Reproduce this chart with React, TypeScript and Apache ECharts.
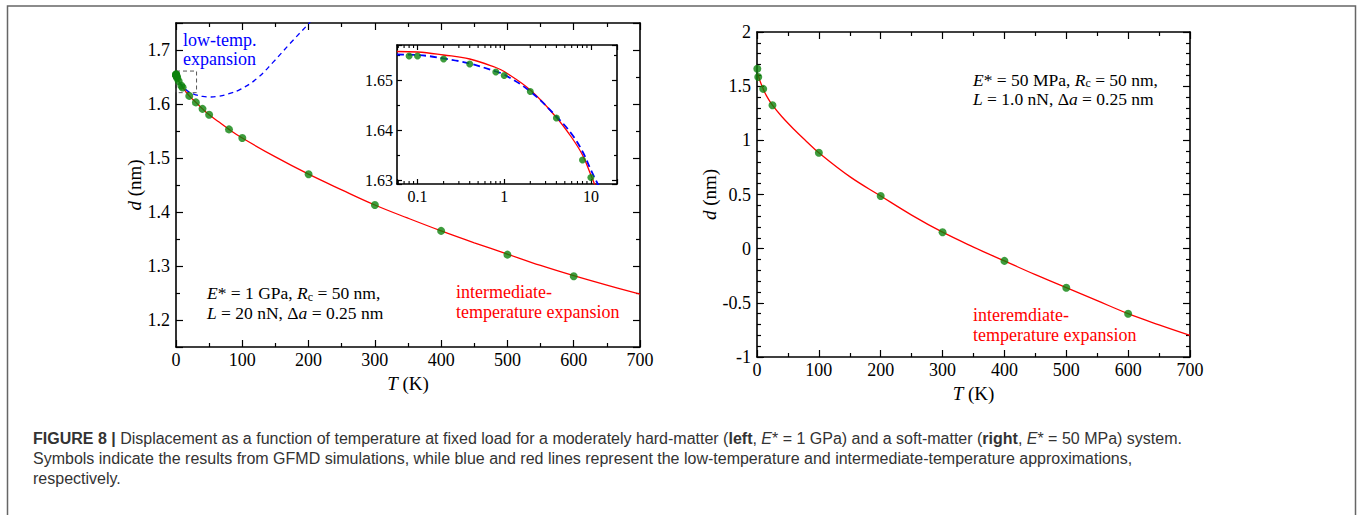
import React, { useEffect, useRef } from 'react';
import * as echarts from 'echarts';

const SERIF = '"Liberation Serif", "Times New Roman", serif';
const SANS = '"Liberation Sans", Arial, sans-serif';

// ---------- Left panel (E* = 1 GPa) ----------
const leftSimT = [0.08, 0.1, 0.2, 0.4, 0.8, 1, 2, 4, 8, 10, 20, 30, 40, 50, 80, 100, 200, 300, 400, 500, 600];
const leftSimD = [1.6548, 1.6548, 1.6542, 1.6532, 1.6516, 1.6509, 1.6477, 1.6424, 1.634, 1.6305, 1.615, 1.603, 1.591, 1.58, 1.553, 1.537, 1.47, 1.413, 1.365, 1.321, 1.281];
const leftInterT = [0, 2, 5, 10, 20, 30, 40, 50, 65, 80, 100, 150, 200, 250, 300, 350, 400, 450, 500, 550, 600, 650, 700];
const leftInterD = [1.6558, 1.648, 1.64, 1.631, 1.615, 1.603, 1.591, 1.58, 1.5665, 1.553, 1.537, 1.502, 1.47, 1.441, 1.413, 1.3885, 1.365, 1.343, 1.322, 1.301, 1.282, 1.2645, 1.248];
const leftLowT = [0, 2, 4, 8, 12, 20, 30, 40, 52, 65, 80, 97, 122, 147, 172, 201, 215];
const leftLowD = [1.6553, 1.6477, 1.6427, 1.6357, 1.63, 1.622, 1.617, 1.614, 1.613, 1.6145, 1.619, 1.627, 1.647, 1.678, 1.712, 1.75, 1.77];
const zoomBoxT = [0, 31];
const zoomBoxD = [1.621, 1.661];

// ---------- Inset (log T) ----------
const insetInterT = [0.058, 0.1, 0.2, 0.4, 0.8, 1, 2, 4, 6, 8, 10, 12];
const insetInterD = [1.6557, 1.6556, 1.655, 1.6542, 1.6525, 1.6517, 1.648, 1.6425, 1.6385, 1.635, 1.631, 1.6275];
const insetLowT = [0.058, 0.1, 0.2, 0.4, 0.8, 1, 2, 4, 6, 8, 10, 13];
const insetLowD = [1.6551, 1.655, 1.6543, 1.6533, 1.6517, 1.6511, 1.6477, 1.6427, 1.6392, 1.6357, 1.632, 1.628];
const insetTRange = [0.058, 20];
const insetDRange = [1.6292, 1.657];
const insetMajorLabels: Record<string, string> = { '-1': '0.1', '0': '1', '1': '10' };

// ---------- Right panel (E* = 50 MPa) ----------
const rightSimT = [0.5, 2, 10, 25, 100, 200, 300, 400, 500, 600];
const rightSimD = [1.66, 1.585, 1.475, 1.324, 0.885, 0.486, 0.152, -0.113, -0.36, -0.6];
const rightInterT = [1.5, 5, 10, 15, 25, 40, 60, 80, 100, 150, 200, 250, 300, 350, 400, 450, 500, 550, 600, 650, 700];
const rightInterD = [1.61, 1.545, 1.475, 1.415, 1.324, 1.22, 1.1, 0.99, 0.885, 0.665, 0.486, 0.31, 0.152, 0.015, -0.113, -0.24, -0.36, -0.48, -0.6, -0.703, -0.8];

const zip = (a: number[], b: number[]) => a.map((v, i) => [v, b[i]]);
const zipLog = (a: number[], b: number[]) => a.map((v, i) => [Math.log10(v), b[i]]);

const RED = '#ff0000';
const BLUE = '#0000ff';
const GREEN = '#0c830c';

const tickLine = { color: '#000', width: 1.2 };

function axis(opts: any) {
  const {
    gridIndex, position, min, max, interval, splitNumber, minorSplit, major, minor,
    showLabel, fontSize, formatter, name, nameGap, margin,
  } = opts;
  const a: any = {
    type: 'value', gridIndex, position, min, max,
    axisLine: { show: true, onZero: false, lineStyle: { color: '#000', width: 1.6 } },
    axisTick: { show: true, inside: true, length: major, lineStyle: tickLine },
    minorTick: { show: minorSplit > 1, splitNumber: minorSplit || 2, length: minor, lineStyle: tickLine },
    splitLine: { show: false },
    minorSplitLine: { show: false },
    axisLabel: {
      show: !!showLabel, fontFamily: SERIF, fontSize: fontSize || 18, color: '#000', margin: margin ?? 5,
      formatter, showMinLabel: true, showMaxLabel: true, hideOverlap: false,
    },
  };
  if (interval !== undefined) a.interval = interval;
  if (splitNumber !== undefined) a.splitNumber = splitNumber;
  if (name) {
    a.name = name;
    a.nameLocation = 'middle';
    a.nameGap = nameGap;
    a.nameTextStyle = {
      fontFamily: SERIF, fontSize: 19, color: '#000',
      rich: { i: { fontFamily: SERIF, fontSize: 19, fontStyle: 'italic', color: '#000' } },
    };
  }
  return a;
}

const oneDec = (v: number) => (Math.abs(v * 10 - Math.round(v * 10)) < 1e-6 ? v.toFixed(1) : '');
const twoDec = (v: number) => (Math.abs(v * 100 - Math.round(v * 100)) < 1e-6 ? v.toFixed(2) : '');
const logLbl = (v: number) => (Math.abs(v - Math.round(v)) < 1e-6 ? insetMajorLabels[String(Math.round(v))] || '' : '');

const insetXMin = Math.log10(insetTRange[0]);
const insetXMax = Math.log10(insetTRange[1]);
const insetMinorTickVals: number[] = [];
for (let e = -2; e <= 1; e++) {
  for (let k = 2; k <= 9; k++) {
    const lv = Math.log10(k * Math.pow(10, e));
    if (lv > insetXMin + 1e-6 && lv < insetXMax - 1e-6) insetMinorTickVals.push(lv);
  }
}

const AF = 18; // free annotation font size
const ALH = 19.5; // annotation line height
const PF = 17.5; // parameter block font size
const rich = {
  i: { fontFamily: SERIF, fontSize: PF, fontStyle: 'italic', lineHeight: ALH },
  n: { fontFamily: SERIF, fontSize: PF, lineHeight: ALH },
  sub: { fontFamily: SERIF, fontSize: 12, lineHeight: 12, padding: [7.5, 0, 0, 0] },
};

const CF = 16; // caption font size
const capRich = {
  n: { fontFamily: SANS, fontSize: CF, color: '#333' },
  b: { fontFamily: SANS, fontSize: CF, fontWeight: 'bold', color: '#333' },
  i: { fontFamily: SANS, fontSize: CF, fontStyle: 'italic', color: '#333' },
};

const lineSeries = (xi: number, data: number[][], color: string, width: number, dash: any, z: number) => ({
  type: 'line', xAxisIndex: xi, yAxisIndex: xi, data,
  smooth: 0.4, symbol: 'none', silent: true, z,
  lineStyle: { color, width, type: dash || 'solid' },
});

function paramBlock(x: number, top: number, eText: string, lText: string) {
  return {
    type: 'text', x, y: top, z: 50,
    style: {
      text: `{i|E}{n|${eText}}{i|R}{sub|c}{n| = 50 nm,}\n{i|L}{n|${lText}}{i|a}{n| = 0.25 nm}`,
      fill: '#000', font: `${PF}px ${SERIF}`, rich, textVerticalAlign: 'top',
    },
  };
}

function noteBlock(x: number, top: number, text: string, color: string) {
  return {
    type: 'text', x, y: top, z: 50,
    style: { text, fill: color, font: `${AF}px ${SERIF}`, lineHeight: ALH, textVerticalAlign: 'top' },
  };
}

function buildOption(): any {
  return {
    animation: false,
    backgroundColor: '#fff',
    grid: [
      { left: 176, top: 23, width: 464, height: 324, containLabel: false },
      { left: 397, top: 45, width: 220, height: 139, containLabel: false, show: true, backgroundColor: '#fff', borderWidth: 0, z: 5 },
      { left: 757, top: 32, width: 433, height: 325, containLabel: false },
    ],
    xAxis: [
      axis({ gridIndex: 0, position: 'bottom', min: 0, max: 700, interval: 100, minorSplit: 2, major: 7, minor: 4, showLabel: true, margin: 4, name: '{i|T} (K)', nameGap: 21 }),
      axis({ gridIndex: 0, position: 'top', min: 0, max: 700, interval: 100, minorSplit: 2, major: 7, minor: 4 }),
      { ...axis({ gridIndex: 1, position: 'bottom', min: insetXMin, max: insetXMax, splitNumber: 3, minorSplit: 0, major: 5, minor: 3, showLabel: true, fontSize: 16, margin: 4, formatter: logLbl }), z: 6 },
      { ...axis({ gridIndex: 1, position: 'top', min: insetXMin, max: insetXMax, splitNumber: 3, minorSplit: 0, major: 5, minor: 3 }), z: 6 },
      axis({ gridIndex: 2, position: 'bottom', min: 0, max: 700, interval: 100, minorSplit: 2, major: 7, minor: 4, showLabel: true, margin: 4, name: '{i|T} (K)', nameGap: 23 }),
      axis({ gridIndex: 2, position: 'top', min: 0, max: 700, interval: 100, minorSplit: 2, major: 7, minor: 4 }),
    ],
    yAxis: [
      axis({ gridIndex: 0, position: 'left', min: 1.15, max: 1.75, splitNumber: 6, minorSplit: 2, major: 7, minor: 4, showLabel: true, margin: 6, formatter: oneDec, name: '{i|d} (nm)', nameGap: 31 }),
      axis({ gridIndex: 0, position: 'right', min: 1.15, max: 1.75, splitNumber: 6, minorSplit: 2, major: 7, minor: 4 }),
      { ...axis({ gridIndex: 1, position: 'left', min: insetDRange[0], max: insetDRange[1], splitNumber: 3, minorSplit: 2, major: 5, minor: 3, showLabel: true, fontSize: 16, margin: 4, formatter: twoDec }), z: 6 },
      { ...axis({ gridIndex: 1, position: 'right', min: insetDRange[0], max: insetDRange[1], splitNumber: 3, minorSplit: 2, major: 5, minor: 3 }), z: 6 },
      axis({ gridIndex: 2, position: 'left', min: -1, max: 2, interval: 0.5, minorSplit: 5, major: 7, minor: 4, showLabel: true, margin: 6, name: '{i|d} (nm)', nameGap: 36 }),
      axis({ gridIndex: 2, position: 'right', min: -1, max: 2, interval: 0.5, minorSplit: 5, major: 7, minor: 4 }),
    ],
    series: [
      lineSeries(0, zip(leftInterT, leftInterD), RED, 1.3, null, 2),
      lineSeries(0, zip(leftLowT, leftLowD), BLUE, 1.3, [5, 4], 2),
      {
        type: 'scatter', xAxisIndex: 0, yAxisIndex: 0, data: zip(leftSimT, leftSimD),
        symbol: 'circle', symbolSize: 8, itemStyle: { color: GREEN }, z: 3, silent: true,
        markArea: {
          silent: true, label: { show: false },
          itemStyle: { color: 'rgba(0,0,0,0)', borderColor: '#555', borderWidth: 1, borderType: [4, 3] },
          data: [[{ coord: [zoomBoxT[0], zoomBoxD[1]] }, { coord: [zoomBoxT[1], zoomBoxD[0]] }]],
        },
      },
      lineSeries(2, zipLog(insetInterT, insetInterD), RED, 1.3, null, 7),
      lineSeries(2, zipLog(insetLowT, insetLowD), BLUE, 1.8, [7, 4], 7),
      {
        type: 'scatter', xAxisIndex: 2, yAxisIndex: 2,
        data: zipLog(leftSimT, leftSimD).filter((p) => p[0] <= 1.0001),
        symbol: 'circle', symbolSize: 7, itemStyle: { color: GREEN }, z: 8, silent: true,
      },
      {
        type: 'custom', xAxisIndex: 2, yAxisIndex: 2, z: 8, silent: true,
        data: insetMinorTickVals.map((v) => [v, insetDRange[0]]),
        renderItem: (params: any, api: any) => {
          const cs = params.coordSys;
          const px = api.coord([api.value(0), insetDRange[0]])[0];
          const st = { stroke: '#000', lineWidth: 1.1 };
          return {
            type: 'group',
            children: [
              { type: 'line', shape: { x1: px, y1: cs.y + cs.height, x2: px, y2: cs.y + cs.height - 3 }, style: st },
              { type: 'line', shape: { x1: px, y1: cs.y, x2: px, y2: cs.y + 3 }, style: st },
            ],
          };
        },
      },
      lineSeries(4, zip(rightInterT, rightInterD), RED, 1.3, null, 2),
      {
        type: 'scatter', xAxisIndex: 4, yAxisIndex: 4, data: zip(rightSimT, rightSimD),
        symbol: 'circle', symbolSize: 8, itemStyle: { color: GREEN }, z: 3, silent: true,
      },
    ],
    graphic: [
      { type: 'rect', shape: { x: 7.5, y: 6, width: 1348, height: 530 }, style: { fill: 'none', stroke: '#666', lineWidth: 1.5 }, silent: true, z: 100 },
      noteBlock(183, 30, 'low-temp.\nexpansion', BLUE),
      paramBlock(207, 283.25, '* = 1 GPa, ', ' = 20 nN, Δ'),
      noteBlock(456, 282.5, 'intermediate-\ntemperature expansion', RED),
      paramBlock(973, 69.75, '* = 50 MPa, ', ' = 1.0 nN, Δ'),
      noteBlock(973, 305.25, 'interemdiate-\ntemperature expansion', RED),
      {
        type: 'text', x: 33, y: 438, z: 50,
        style: {
          text: '{b|FIGURE 8 |}{n| Displacement as a function of temperature at fixed load for a moderately hard-matter (}{b|left}{n|, }{i|E}{n|* = 1 GPa) and a soft-matter (}{b|right}{n|, }{i|E}{n|* = 50 MPa) system.}',
          rich: capRich, fill: '#333', font: `${CF}px ${SANS}`, textVerticalAlign: 'middle',
        },
      },
      {
        type: 'text', x: 33, y: 458, z: 50,
        style: {
          text: 'Symbols indicate the results from GFMD simulations, while blue and red lines represent the low-temperature and intermediate-temperature approximations,',
          fill: '#333', font: `${CF}px ${SANS}`, textVerticalAlign: 'middle',
        },
      },
      {
        type: 'text', x: 33, y: 478, z: 50,
        style: { text: 'respectively.', fill: '#333', font: `${CF}px ${SANS}`, textVerticalAlign: 'middle' },
      },
    ],
  };
}

export default function App() {
  const ref = useRef<HTMLDivElement>(null);
  useEffect(() => {
    document.body.style.margin = '0';
    const chart = echarts.init(ref.current!, undefined, { renderer: 'svg', width: 1357, height: 515 });
    chart.setOption(buildOption());
    return () => chart.dispose();
  }, []);
  return <div ref={ref} style={{ width: 1357, height: 515, background: '#fff' }} />;
}
